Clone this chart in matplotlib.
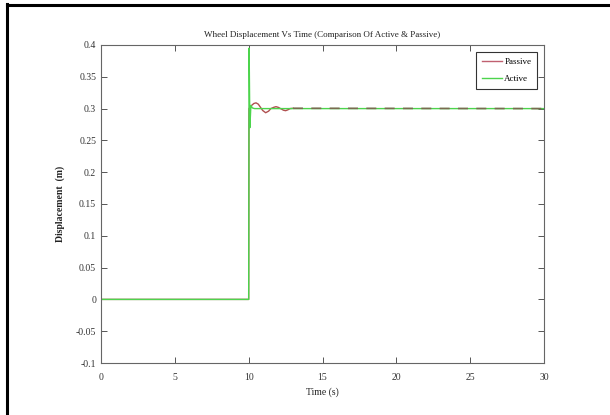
import matplotlib.pyplot as plt
from matplotlib.lines import Line2D

# time (s) and wheel displacement (m)
t_passive = [0, 10.0, 10.02, 10.2, 10.35, 10.5, 10.65, 10.8, 10.95, 11.15, 11.35,
             11.5, 11.7, 11.85, 12.0, 12.2, 12.35, 12.5, 12.65, 12.8, 13.0, 30]
y_passive = [0, 0.0, 0.300, 0.305, 0.308, 0.309, 0.307, 0.302, 0.297, 0.2935, 0.296,
             0.300, 0.302, 0.303, 0.302, 0.2995, 0.2975, 0.2967, 0.298, 0.300, 0.3005, 0.3]

t_active = [0, 10.0, 10.03, 10.08, 10.15, 10.25, 10.4, 30]
y_active = [0, 0.0, 0.395, 0.27, 0.305, 0.301, 0.300, 0.300]

x_ticks = [0, 5, 10, 15, 20, 25, 30]
y_ticks = [-0.1, -0.05, 0, 0.05, 0.1, 0.15, 0.2, 0.25, 0.3, 0.35, 0.4]
y_tick_labels = ['-0.1', '-0.05', '0', '0.05', '0.1', '0.15', '0.2', '0.25', '0.3', '0.35', '0.4']

plt.rcParams['font.family'] = ['Liberation Serif', 'DejaVu Serif']

fig = plt.figure(figsize=(6.1, 4.15), dpi=100)
ax = fig.add_axes([0.1656, 0.1253, 0.7262, 0.7663])

# passive first, active over it; settled part of passive shows as dark dashes on top
steady = t_passive.index(13.0)
ax.plot(t_passive[:steady + 1], y_passive[:steady + 1], color='#b05050', linewidth=1.0)
ax.plot(t_active, y_active, color='#4cd44c', linewidth=1.0, label='Active')
ax.plot(t_passive[steady:], y_passive[steady:], color='#7a6a50', linewidth=1.2,
        dashes=(6, 5))

ax.set_xlim(0, 30)
ax.set_ylim(-0.1, 0.4)
ax.set_xticks(x_ticks)
ax.set_xticklabels([str(v) for v in x_ticks])
ax.set_yticks(y_ticks)
ax.set_yticklabels(y_tick_labels)
ax.tick_params(direction='in', top=True, right=True, labelsize=7, length=4,
               color='#555555', labelcolor='#333333', width=0.7)
ax.tick_params(axis='x', pad=7)
for s in ax.spines.values():
    s.set_color('#666666')
    s.set_linewidth(0.8)

ax.set_title('Wheel Displacement Vs Time (Comparison Of Active & Passive)',
             fontsize=6.5, pad=6, color='#222222')
ax.set_xlabel('Time (s)', fontsize=7, color='#222222', labelpad=4)
ax.set_ylabel('Displacement  (m)', fontsize=7, fontweight='bold', color='#222222',
              labelpad=8)

handles = [Line2D([], [], color='#c06070', linewidth=1.0),
           Line2D([], [], color='#4cd44c', linewidth=1.0)]
leg = ax.legend(handles, ['Passive', 'Active'], loc='upper right', fontsize=6.5,
                fancybox=False, edgecolor='black', handlelength=2.2,
                handletextpad=0.3, borderpad=0.6, labelspacing=1.0,
                borderaxespad=0.8)
leg.get_frame().set_linewidth(0.8)

# black frame of the scanned figure (left and top edges)
fig.add_artist(Line2D([0.0115, 0.0115], [0, 0.99], color='black', linewidth=2.2,
                      transform=fig.transFigure))
fig.add_artist(Line2D([0.0115, 1.0], [0.988, 0.988], color='black', linewidth=2.2,
                      transform=fig.transFigure))

fig.savefig('out.png', dpi=100)
